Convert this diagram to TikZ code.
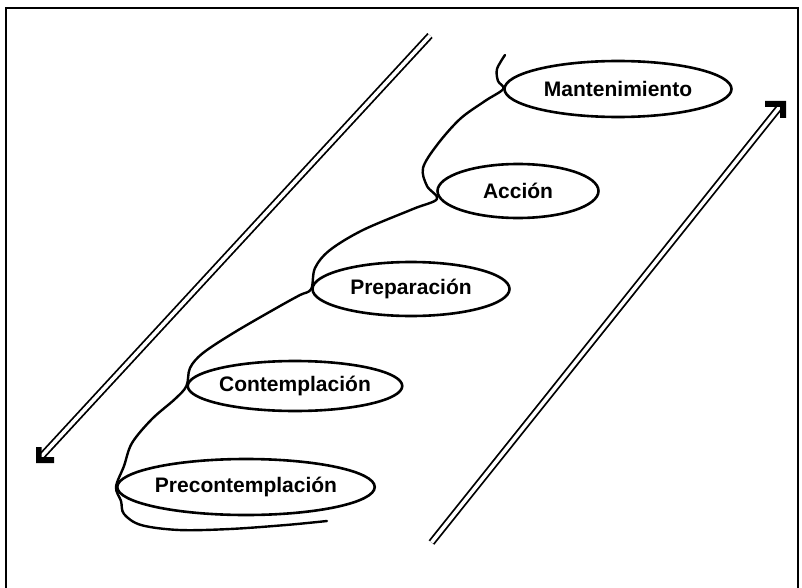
\documentclass[tikz,border=0pt]{standalone}
\usepackage{fontspec}
\setmainfont{Liberation Sans}
\usetikzlibrary{shapes.geometric}
\tikzset{
  stage/.style={ellipse, draw, line width=2.6pt, inner sep=0pt, font=\bfseries\fontsize{21}{25}\selectfont},
  spiral/.style={line width=2.4pt, line cap=round, line join=round},
  dbl/.style={double, double distance=3.6pt, line width=1.8pt},
  framebox/.style={line width=1.8pt},
  headfill/.style={fill=black}
}
\begin{document}
\begin{tikzpicture}[x=1pt,y=-1pt]
\useasboundingbox (0,0) rectangle (802,588);
\draw[framebox] (6,589) -- (6,8) -- (798,8) -- (798,589);

\node[stage, minimum width=227pt, minimum height=56pt] (M) at (618,89) {Mantenimiento};
\node[stage, minimum width=161pt, minimum height=54pt] (A) at (518,191) {Acción};
\node[stage, minimum width=197pt, minimum height=54pt] (P) at (411,289) {Preparación};
\node[stage, minimum width=212pt, minimum height=50pt] (C) at (295,386) {Contemplación};
\node[stage, minimum width=240pt, minimum height=56pt] (PC) at (246,487) {Precontemplación};

% spiral
\coordinate (s0) at (505,55);
\coordinate (s1) at (327,521);
\draw[spiral] plot[smooth, tension=0.55] coordinates {
  (s0) (497,69) (498,81) (M.west) (485,101) (460,119) (437,145) (423,168) (427,186) (437,199)
  (413,209) (363,230) (330,250) (315,268) (P.west) (300,295) (280,306) (235,332) (203,353)
  (190,368) (C.west) (175,399) (152,419) (132,443) (124,466) (PC.west) (121,501) (124,514)
  (141,525) (179,530) (230,529) (286,525) (s1)};

% left double arrow
\coordinate (la1) at (430,35.5);
\coordinate (la2) at (40,458);
\draw[dbl] (la1) -- (la2);
\fill[headfill] (36,463) -- (36,447) -- (41.5,447) -- (41.5,457) -- (54,457) -- (54,463) -- cycle;

% right double arrow
\coordinate (ra1) at (431.5,542.5);
\coordinate (ra2) at (782,104);
\draw[dbl] (ra1) -- (ra2);
\fill[headfill] (786,101) -- (765,101) -- (765,107) -- (780,107) -- (780,118) -- (786,118) -- cycle;
\end{tikzpicture}
\end{document}
